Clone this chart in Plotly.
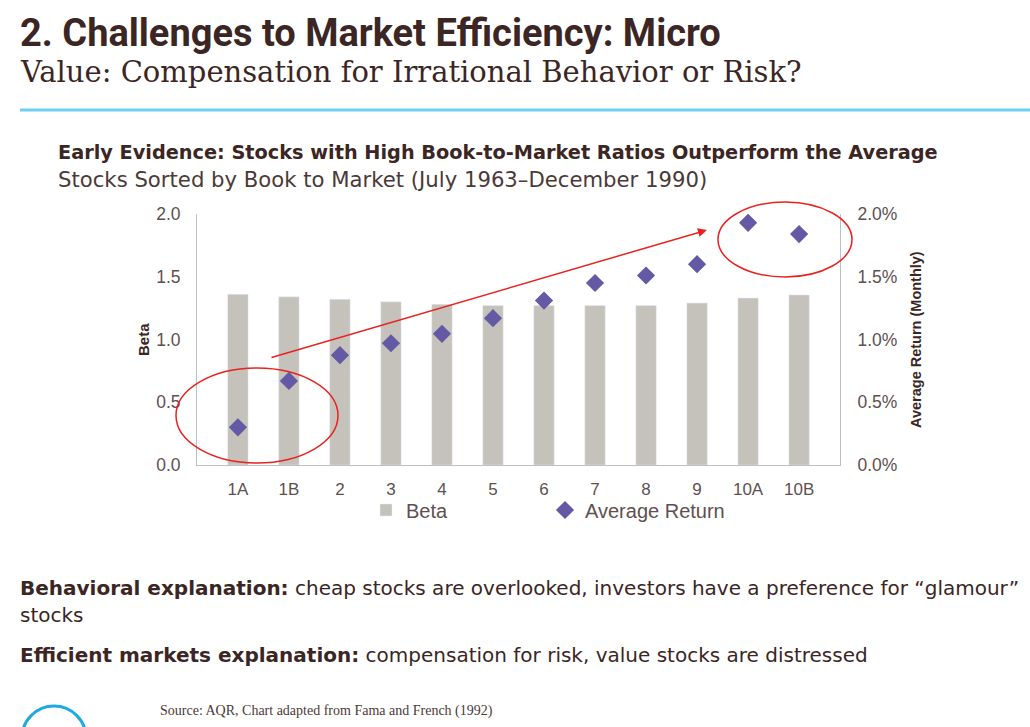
import plotly.graph_objects as go

categories = ["1A", "1B", "2", "3", "4", "5", "6", "7", "8", "9", "10A", "10B"]
beta = [1.36, 1.34, 1.32, 1.30, 1.28, 1.27, 1.27, 1.27, 1.27, 1.29, 1.33, 1.355]
avg_return = [0.0030, 0.0067, 0.00875, 0.0097, 0.01045, 0.0117, 0.0131, 0.0145, 0.0151, 0.0160, 0.0193, 0.0184]

W, H = 1030, 727
L, R, T, B = 197, 840, 214, 465
PW, PH = R - L, B - T

def px(x):
    return (x - L) / PW

def py(y):
    return (B - y) / PH

SANS = "Liberation Sans"
WIDE = "DejaVu Sans"
DARK = "#3b2624"
TICK = "#5e5050"

fig = go.Figure()
fig.add_trace(go.Bar(x=categories, y=beta, name="Beta", marker_color="#c5c1bb",
                     yaxis="y"))
fig.add_trace(go.Scatter(x=categories, y=avg_return, name="Average Return", mode="markers",
                         marker=dict(symbol="diamond", size=14, color="#6459a5"),
                         yaxis="y2"))

fig.update_layout(
    width=W, height=H,
    margin=dict(l=L, r=W - R, t=T, b=H - B),
    paper_bgcolor="white", plot_bgcolor="white",
    bargap=0.6,
    font=dict(family=SANS, color=TICK, size=17),
    xaxis=dict(showline=True, linecolor="#bfbfbf", linewidth=1, ticks="", showgrid=False,
               ticklabelstandoff=9, tickfont=dict(size=17, color=TICK)),
    yaxis=dict(range=[0, 2.0], dtick=0.5, tickformat=".1f", showline=True, linecolor="#bfbfbf",
               showgrid=False, zeroline=False, ticks="", ticklabelstandoff=12,
               tickfont=dict(size=17.5, color=TICK)),
    yaxis2=dict(range=[0, 0.02], dtick=0.005, tickformat=".1%", overlaying="y", side="right",
                showline=True, linecolor="#bfbfbf", showgrid=False, zeroline=False, ticks="",
                ticklabelstandoff=13, tickfont=dict(size=17.5, color=TICK)),
    legend=dict(orientation="h", x=px(366), xanchor="left", y=py(510), yanchor="middle",
                entrywidth=134, itemwidth=30, font=dict(size=20, color=TICK),
                bgcolor="rgba(0,0,0,0)"),
    showlegend=True,
)

ann = []
def text(x, y, s, size, color=DARK, family=SANS, xanchor="left", textangle=0):
    ann.append(dict(x=px(x), y=py(y), xref="paper", yref="paper", text=s, showarrow=False,
                    xanchor=xanchor, yanchor="middle", textangle=textangle,
                    font=dict(size=size, color=color, family=family)))

text(18, 33, "<b>2. Challenges to Market Efficiency: Micro</b>", 38, family="Roboto")
text(18, 72, "Value: Compensation for Irrational Behavior or Risk?", 29, family="DejaVu Serif")
text(56, 152, "<b>Early Evidence: Stocks with High Book-to-Market Ratios Outperform the Average</b>", 19.3, family=WIDE)
text(56, 180, "Stocks Sorted by Book to Market (July 1963–December 1990)", 21.2, color="#4a3a38", family=WIDE)
text(143, 340, "<b>Beta</b>", 15, xanchor="center", textangle=-90)
text(916, 340, "<b>Average Return (Monthly)</b>", 14.5, xanchor="center", textangle=-90)
text(18, 588, "<b>Behavioral explanation:</b> cheap stocks are overlooked, investors have a preference for “glamour”", 20, family=WIDE)
text(18, 615, "stocks", 20, family=WIDE)
text(18, 655, "<b>Efficient markets explanation:</b> compensation for risk, value stocks are distressed", 20, family=WIDE)
text(158, 711, "Source: AQR, Chart adapted from Fama and French (1992)", 14, color="#4a3a38", family="Liberation Serif")

# red arrow
ann.append(dict(x=px(707), y=py(230), ax=270 - 707, ay=358 - 230, xref="paper", yref="paper",
                axref="pixel", ayref="pixel", showarrow=True, arrowhead=2, arrowsize=1.2,
                arrowwidth=1.5, arrowcolor="#e8231f", text=""))
fig.update_layout(annotations=ann)

shapes = [
    dict(type="line", xref="paper", yref="paper", x0=px(20), x1=px(1030), y0=py(110), y1=py(110),
         line=dict(color="#6dcff6", width=3)),
    dict(type="circle", xref="paper", yref="paper", x0=px(176), x1=px(338), y0=py(463), y1=py(368),
         line=dict(color="#e8231f", width=1.5)),
    dict(type="circle", xref="paper", yref="paper", x0=px(718), x1=px(852), y0=py(277), y1=py(202),
         line=dict(color="#e8231f", width=1.5)),
    dict(type="circle", xref="paper", yref="paper", x0=px(22), x1=px(86), y0=py(770), y1=py(706),
         line=dict(color="#1fa9e1", width=3)),
]
fig.update_layout(shapes=shapes)

fig.write_html("out.html")
